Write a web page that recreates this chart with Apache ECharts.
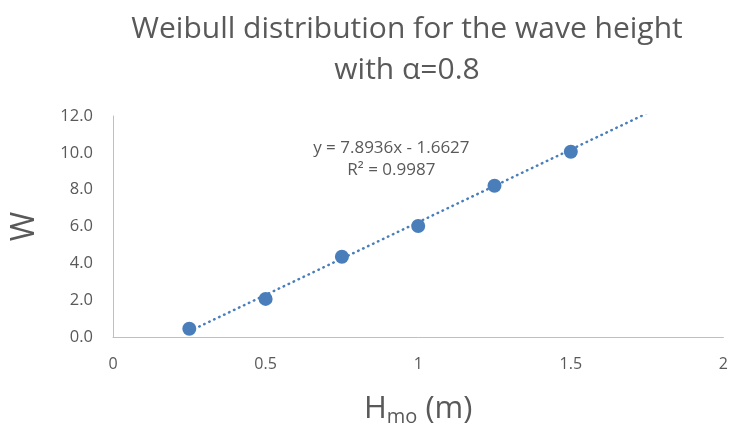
<!DOCTYPE html>
<html>
<head>
<meta charset="utf-8">
<script src="https://cdn.jsdelivr.net/npm/echarts@6/dist/echarts.min.js"></script>
<style>html,body{margin:0;padding:0;background:#fff}#c{width:731px;height:433px}</style>
</head>
<body>
<div id="c"></div>
<script>
const xValues = [0.25, 0.5, 0.75, 1.0, 1.25, 1.5];
const wValues = [0.45, 2.07, 4.36, 6.03, 8.21, 10.06];
const xTicks = [0, 0.5, 1, 1.5, 2];
const yTicks = [0, 2, 4, 6, 8, 10, 12];
const trendSlope = 7.8936;
const trendIntercept = -1.6627;
const trendX = [0.25, 1.75];
const eqText = 'y = 7.8936x - 1.6627';
const r2Text = 'R² = 0.9987';

const blue = '#4a7ebb';
const grey = '#595959';
const FONT = 'Open Sans';

const chart = echarts.init(document.getElementById('c'));
chart.setOption({
  backgroundColor: '#fff',
  animation: false,
  textStyle: { fontFamily: FONT },
  title: {
    text: 'Weibull distribution for the wave height\nwith α=0.8',
    left: 402, top: 4, textAlign: 'center',
    textStyle: { fontFamily: FONT, fontSize: 30, fontWeight: 'normal', color: grey, lineHeight: 41 }
  },
  grid: { left: 113, right: 6, top: 116, bottom: 96 },
  xAxis: {
    type: 'value', min: xTicks[0], max: xTicks[xTicks.length - 1], interval: 0.5,
    axisLine: { lineStyle: { color: '#bfbfbf', width: 1 } },
    axisTick: { show: false },
    splitLine: { show: false },
    axisLabel: { color: grey, fontSize: 16, margin: 19, fontFamily: FONT },
    name: '{a|H}{s|mo}{a| (m)}', nameLocation: 'middle', nameGap: 54,
    nameTextStyle: {
      rich: {
        a: { fontSize: 31, color: grey, fontFamily: FONT },
        s: { fontSize: 20, color: grey, fontFamily: FONT, padding: [16, 0, 0, 0] }
      }
    }
  },
  yAxis: {
    type: 'value', min: yTicks[0], max: yTicks[yTicks.length - 1], interval: 2,
    axisLine: { show: true, lineStyle: { color: '#bfbfbf', width: 1 } },
    axisTick: { show: false },
    splitLine: { show: false },
    axisLabel: { color: grey, fontSize: 16.5, margin: 20, fontFamily: FONT, formatter: v => v.toFixed(1) },
    name: 'W', nameLocation: 'middle', nameGap: 72, nameRotate: 90,
    nameTextStyle: { fontSize: 32, color: grey, fontFamily: FONT }
  },
  series: [
    {
      type: 'line',
      data: trendX.map(x => [x, trendSlope * x + trendIntercept]),
      symbol: 'none',
      lineStyle: { color: blue, width: 2.5, type: [0.5, 5], cap: 'round' },
      clip: true,
      silent: true,
      z: 2,
      markPoint: {
        symbol: 'circle', symbolSize: 0,
        label: { show: true, position: 'inside', color: grey, fontSize: 17, lineHeight: 22, fontFamily: FONT,
                 formatter: eqText + '\n' + r2Text },
        data: [{ coord: [0.912, 9.65] }]
      }
    },
    {
      type: 'scatter',
      data: xValues.map((x, i) => [x, wValues[i]]),
      symbol: 'circle', symbolSize: 14,
      itemStyle: { color: blue, opacity: 1 },
      z: 3
    }
  ]
});
</script>
</body>
</html>
